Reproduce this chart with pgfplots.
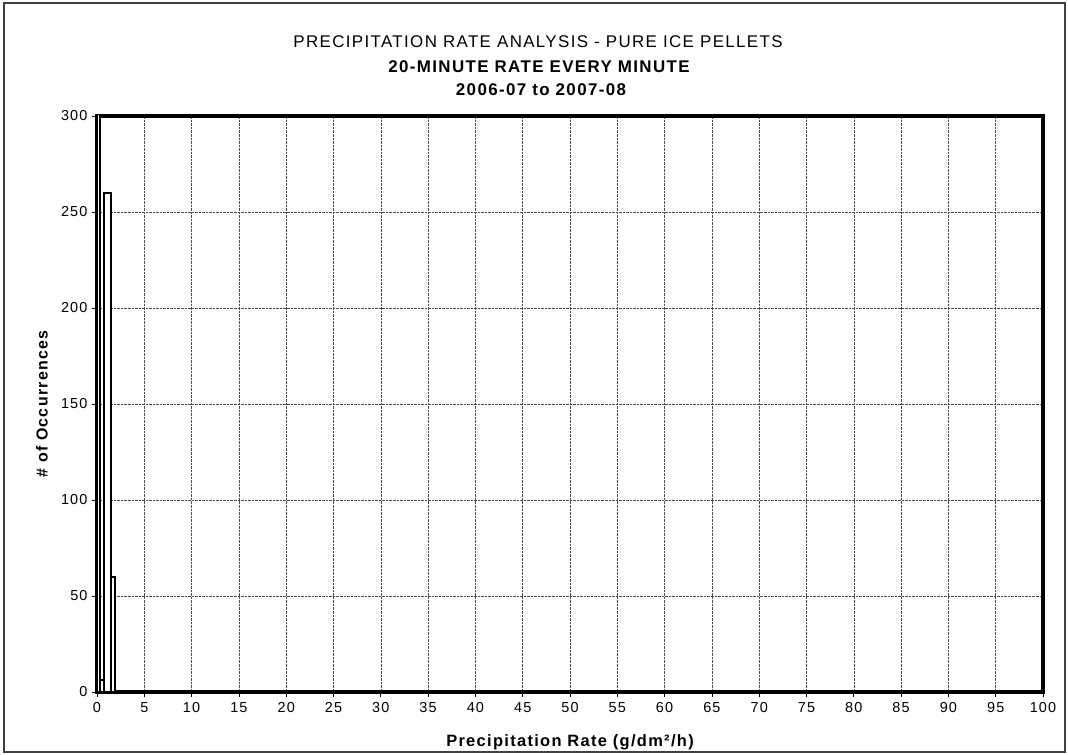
\documentclass[border=0pt]{standalone}
\usepackage{fontspec}
\setmainfont{Liberation Sans}
\newfontfamily\spaced[LetterSpace=8]{Liberation Sans}
\usepackage{pgfplots}
\pgfplotsset{compat=1.18}

\begin{document}
\begin{tikzpicture}
\useasboundingbox (-97bp,-63bp) rectangle (971bp,692bp);
\draw[line width=1.5bp, black!75] (-93bp,-60bp) rectangle (968bp,689bp);
\begin{axis}[
    at={(0,0)}, anchor=south west,
    scale only axis,
    width=946bp, height=576bp,
    xmin=0, xmax=100, ymin=0, ymax=300,
    xtick distance=5, ytick distance=50,
    xtick pos=lower, ytick pos=left,
    tick align=outside,
    major tick length=5bp,
    tick style={black, line width=0.8bp},
    grid=major,
    major grid style={densely dotted, black!70, line width=0.6bp},
    axis line style={line width=3.5bp},
    /pgf/number format/assume math mode=true,
    ticklabel style={font=\fontsize{14.5}{14.5}\selectfont\spaced},
    xticklabel style={yshift=-2bp},
    yticklabel style={xshift=-1bp},
]
\addplot[ybar interval, fill=white, draw=black, line width=2bp] coordinates {
(0,320) (0.35,6) (0.7,260) (1.45,60) (1.9,60)
};
\end{axis}
% titles and axis labels
\node[font=\fontsize{17}{17}\selectfont\spaced] at (441bp,650bp) {PRECIPITATION RATE ANALYSIS - PURE ICE PELLETS};
\node[font=\fontsize{17}{17}\selectfont\spaced\bfseries] at (442bp,625bp) {20-MINUTE RATE EVERY MINUTE};
\node[font=\fontsize{17}{17}\selectfont\spaced\bfseries] at (444bp,602bp) {2006-07 to 2007-08};
\node[font=\fontsize{16.5}{16.5}\selectfont\spaced\bfseries] at (473bp,-50bp) {Precipitation Rate (g/dm²/h)};
\node[font=\fontsize{16}{16}\selectfont\spaced\bfseries, rotate=90] at (-55bp,288bp) {\# of Occurrences};
\end{tikzpicture}
\end{document}
